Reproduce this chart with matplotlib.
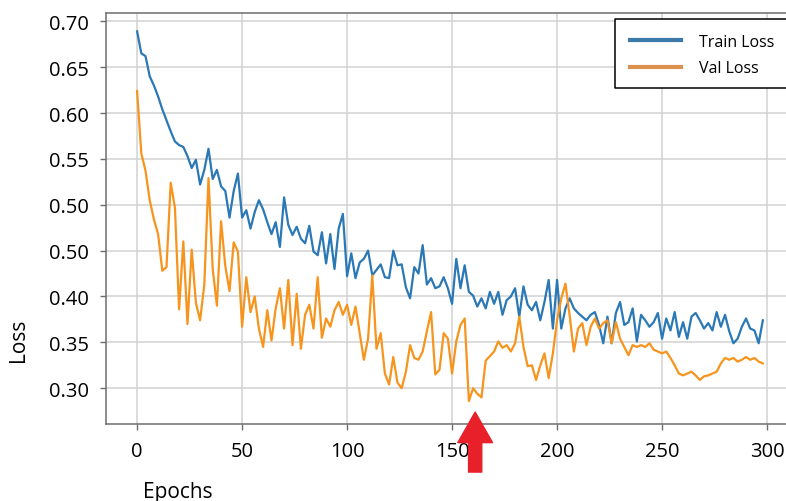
import numpy as np
import matplotlib
matplotlib.use("Agg")
import matplotlib.pyplot as plt
from matplotlib.lines import Line2D
from matplotlib.patches import Rectangle

plt.rcParams["font.family"] = ["Open Sans", "DejaVu Sans"]

# epochs sampled every 2
epochs = np.arange(0, 300, 2)

train_loss = [
    0.689, 0.665, 0.662, 0.640, 0.630, 0.618, 0.604, 0.592, 0.580, 0.569,
    0.565, 0.563, 0.553, 0.540, 0.549, 0.522, 0.538, 0.561, 0.528, 0.538,
    0.520, 0.515, 0.486, 0.515, 0.534, 0.486, 0.494, 0.474, 0.492, 0.505,
    0.495, 0.481, 0.468, 0.481, 0.454, 0.508, 0.478, 0.467, 0.476, 0.463,
    0.458, 0.477, 0.449, 0.445, 0.470, 0.436, 0.468, 0.430, 0.474, 0.490,
    0.422, 0.447, 0.420, 0.437, 0.441, 0.450, 0.423, 0.429, 0.435, 0.421,
    0.420, 0.450, 0.434, 0.435, 0.410, 0.398, 0.432, 0.425, 0.456, 0.413,
    0.420, 0.409, 0.411, 0.421, 0.409, 0.392, 0.441, 0.409, 0.434, 0.405,
    0.401, 0.389, 0.398, 0.387, 0.405, 0.392, 0.405, 0.380, 0.396, 0.400,
    0.409, 0.378, 0.411, 0.391, 0.385, 0.394, 0.374, 0.394, 0.418, 0.365,
    0.418, 0.365, 0.387, 0.398, 0.387, 0.382, 0.378, 0.374, 0.380, 0.383,
    0.369, 0.349, 0.378, 0.349, 0.382, 0.394, 0.369, 0.372, 0.387, 0.351,
    0.380, 0.374, 0.367, 0.372, 0.382, 0.354, 0.376, 0.363, 0.383, 0.356,
    0.372, 0.354, 0.378, 0.382, 0.374, 0.365, 0.371, 0.363, 0.383, 0.367,
    0.380, 0.362, 0.349, 0.354, 0.367, 0.376, 0.365, 0.363, 0.349, 0.374,
]

val_loss = [
    0.624, 0.556, 0.537, 0.505, 0.484, 0.468, 0.428, 0.432, 0.524, 0.497,
    0.386, 0.460, 0.370, 0.451, 0.393, 0.374, 0.413, 0.529, 0.430, 0.390,
    0.482, 0.433, 0.406, 0.459, 0.449, 0.367, 0.421, 0.383, 0.400, 0.365,
    0.345, 0.385, 0.352, 0.387, 0.409, 0.365, 0.418, 0.347, 0.403, 0.343,
    0.380, 0.391, 0.365, 0.421, 0.355, 0.376, 0.367, 0.385, 0.394, 0.380,
    0.391, 0.369, 0.389, 0.360, 0.331, 0.354, 0.423, 0.343, 0.360, 0.316,
    0.304, 0.334, 0.306, 0.300, 0.318, 0.347, 0.333, 0.331, 0.340, 0.362,
    0.383, 0.315, 0.320, 0.360, 0.354, 0.316, 0.351, 0.369, 0.376, 0.286,
    0.300, 0.294, 0.290, 0.330, 0.335, 0.340, 0.351, 0.344, 0.347, 0.340,
    0.349, 0.378, 0.345, 0.324, 0.325, 0.309, 0.325, 0.338, 0.311, 0.338,
    0.374, 0.398, 0.414, 0.379, 0.340, 0.365, 0.371, 0.347, 0.367, 0.376,
    0.365, 0.371, 0.374, 0.349, 0.372, 0.354, 0.345, 0.336, 0.347, 0.345,
    0.347, 0.345, 0.349, 0.342, 0.340, 0.338, 0.340, 0.333, 0.325, 0.316,
    0.314, 0.316, 0.318, 0.314, 0.309, 0.313, 0.314, 0.316, 0.318, 0.327,
    0.333, 0.331, 0.333, 0.329, 0.331, 0.334, 0.331, 0.333, 0.329, 0.327,
]

ytick_vals = [0.30, 0.35, 0.40, 0.45, 0.50, 0.55, 0.60, 0.65, 0.70]
# the source figure labels 0.45 as "0.50"
ytick_labels = ["0.30", "0.35", "0.40", "0.50", "0.50", "0.55", "0.60", "0.65", "0.70"]
xtick_vals = [0, 50, 100, 150, 200, 250, 300]
best_epoch = 161

fig = plt.figure(figsize=(7.86, 5.02), dpi=100)
ax = fig.add_axes([0.1349, 0.1534, 0.8677, 0.8187])

ax.plot(epochs, train_loss, color="#2a78b5", lw=1.6)
ax.plot(epochs, val_loss, color="#f7941d", lw=1.6)

ax.set_xlim(-14.8, 310)
ax.set_ylim(0.261, 0.709)
ax.set_xticks(xtick_vals)
ax.set_yticks(ytick_vals)
ax.set_yticklabels(ytick_labels)
ax.grid(True, color="#d2d2d2", lw=1.1)
ax.set_axisbelow(True)

for side in ["top", "left", "bottom"]:
    ax.spines[side].set_color("#6e6e6e")
    ax.spines[side].set_linewidth(1.1)
ax.spines["right"].set_visible(False)
ax.tick_params(axis="both", colors="#6e6e6e", labelcolor="black", labelsize=14.5, width=1.0)
ax.tick_params(axis="y", length=4.5, pad=8)
ax.tick_params(axis="x", length=4, pad=8)

fig.text(0.023, 0.322, "Loss", rotation=90, fontsize=15, ha="center", va="center")
fig.text(0.226, 0.018, "Epochs", fontsize=15, ha="center", va="center")

# legend box runs off the right edge in the source image: white box + three-sided outline
x0, y0, x1, y1 = 0.7824, 0.8227, 1.05, 0.9602
fig.patches.append(Rectangle((x0, y0), x1 - x0, y1 - y0, transform=fig.transFigure,
                             facecolor="white", edgecolor="none", zorder=4))
fig.lines.append(Line2D([x1, x0, x0, x1], [y1, y1, y0, y0], transform=fig.transFigure,
                        color="black", lw=1.1, zorder=4.5))
handles = [Line2D([], [], color="#3b7aa8", lw=3), Line2D([], [], color="#dc924e", lw=3)]
leg = fig.legend(handles, ["Train Loss", "Val Loss"], loc="upper left",
                 bbox_to_anchor=(0.7825, 0.9605), borderaxespad=0, fontsize=11.5,
                 handlelength=3.2, handletextpad=1.1, borderpad=0.95, labelspacing=0.65,
                 frameon=False)
leg.set_zorder(5)

# red arrow pointing at the lowest val loss
ax.annotate("", xy=(best_epoch, 0.274), xytext=(0, -60), textcoords="offset pixels",
            arrowprops=dict(arrowstyle="simple,head_width=2.5,head_length=2.2,tail_width=0.95",
                            mutation_scale=10, color="#e8202a", shrinkA=0, shrinkB=0),
            annotation_clip=False)

fig.savefig("out.png", dpi=100)
